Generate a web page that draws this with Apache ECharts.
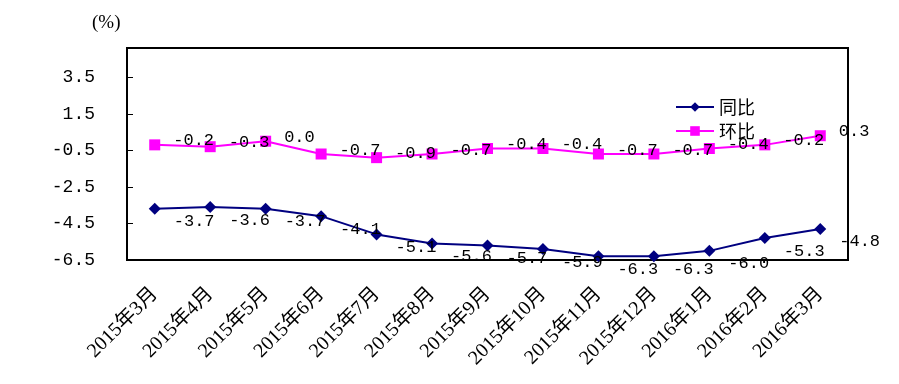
<!DOCTYPE html>
<html>
<head>
<meta charset="utf-8">
<script src="https://cdn.jsdelivr.net/npm/echarts@6/dist/echarts.min.js"></script>
<style>html,body{margin:0;padding:0;background:#fff;}#c{width:899px;height:384px;}</style>
</head>
<body>
<div id="c"></div>
<script>
var categories = ['2015年3月','2015年4月','2015年5月','2015年6月','2015年7月','2015年8月','2015年9月','2015年10月','2015年11月','2015年12月','2016年1月','2016年2月','2016年3月'];
var yoy = [-3.7,-3.6,-3.7,-4.1,-5.1,-5.6,-5.7,-5.9,-6.3,-6.3,-6.0,-5.3,-4.8];
var mom = [-0.2,-0.3,0.0,-0.7,-0.9,-0.7,-0.4,-0.4,-0.7,-0.7,-0.4,-0.2,0.3];
var seriesNames = ['同比','环比'];
var unitLabel = '(%)';

var chart = echarts.init(document.getElementById('c'), null, {renderer:'canvas'});
var numFont = "'Liberation Mono', monospace";
chart.setOption({
  animation: false,
  backgroundColor: '#fff',
  graphic: [{type:'text', left: 92, top: 14, style:{text: unitLabel, fontSize: 19, fontFamily: "'Liberation Serif', 'Noto Sans CJK SC'", fill:'#000'}}],
  grid: {left: 127, right: 51, top: 48, bottom: 124, show: true, borderColor: '#000', borderWidth: 2, backgroundColor: 'transparent'},
  legend: {
    orient: 'vertical', left: 675, top: 98, padding: 0, itemWidth: 38, itemHeight: 12, itemGap: 6,
    textStyle: {fontSize: 18, fontFamily: "'Noto Sans CJK SC'", color: '#000'},
    data: seriesNames
  },
  xAxis: {
    type: 'category', data: categories, boundaryGap: true,
    axisLine: {onZero: false, lineStyle: {color: '#000', width: 2}},
    axisTick: {show: false},
    axisLabel: {rotate: 45, margin: 31, fontSize: 20, color: '#000', fontFamily: "'Liberation Serif', 'Noto Sans CJK SC'", interval: 0}
  },
  yAxis: {
    type: 'value', min: -6.5, max: 5.1, interval: 2,
    axisLine: {show: true, onZero: false, lineStyle: {color: '#000', width: 2}},
    axisTick: {show: true, inside: true, length: 6, lineStyle: {color: '#000', width: 1}},
    splitLine: {show: false},
    axisLabel: {showMaxLabel: false, margin: 32, fontSize: 18, color: '#000', fontFamily: numFont,
      formatter: function(v){ return v.toFixed(1); }}
  },
  series: [
    {name: seriesNames[0], type: 'line', data: yoy, symbol: 'diamond', symbolSize: 12,
     itemStyle: {color: '#000080'}, lineStyle: {color: '#000080', width: 2},
     label: {show: true, position: 'right', distance: 13, offset: [0, 13], fontSize: 17, fontFamily: numFont, color: '#000',
       formatter: function(p){ return p.value.toFixed(1); }}},
    {name: seriesNames[1], type: 'line', data: mom, symbol: 'rect', symbolSize: 11,
     itemStyle: {color: '#FF00FF'}, lineStyle: {color: '#FF00FF', width: 2},
     label: {show: true, position: 'right', distance: 13, offset: [0, -4], fontSize: 17, fontFamily: numFont, color: '#000',
       formatter: function(p){ return p.value.toFixed(1); }}}
  ]
});
</script>
</body>
</html>
